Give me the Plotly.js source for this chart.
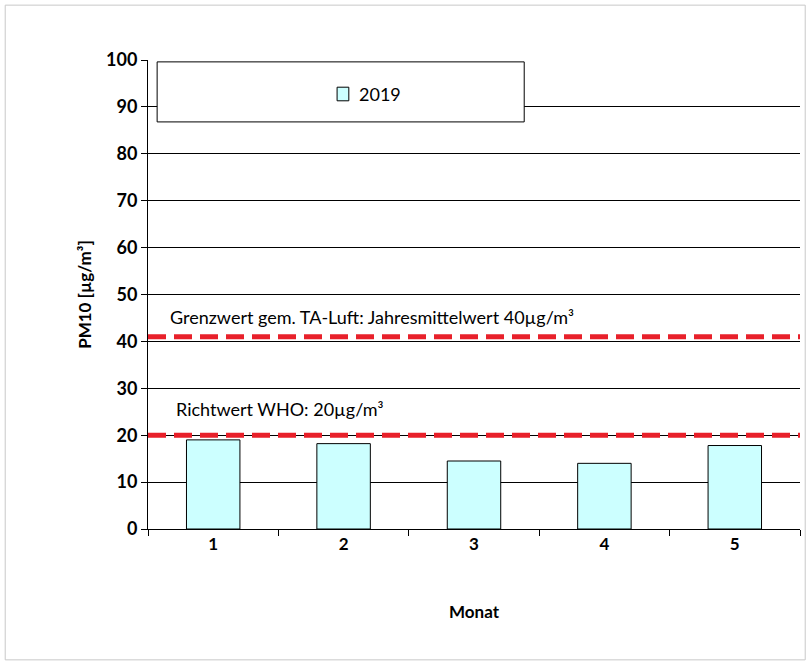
<!DOCTYPE html>
<html><head><meta charset="utf-8">
<script src="https://cdn.plot.ly/plotly-3.0.1.min.js"></script>
<style>body{margin:0}#c{width:810px;height:668px}</style></head>
<body><div id="c"></div>
<script>
const months = ["1","2","3","4","5"];
const pm10 = [19, 18.2, 14.5, 14, 17.8];
const grenzwert = 41;
const who = 20;
const grenzText = "Grenzwert gem. TA-Luft: Jahresmittelwert 40µg/m³";
const whoText = "Richtwert WHO: 20µg/m³";
const F = "Lato, 'Open Sans', sans-serif";
const data = [{
  type: "bar", x: months, y: pm10, name: "2019",
  marker: {color: "#ccffff", line: {color: "#000", width: 1}}, width: 0.41
}];
const layout = {
  width: 810, height: 668,
  margin: {l: 148, r: 10, t: 60, b: 139},
  paper_bgcolor: "#fff", plot_bgcolor: "#fff",
  showlegend: false,
  font: {family: F, color: "#000"},
  xaxis: {type: "category", showgrid: false, ticks: "outside", ticklen: 6, tickcolor: "#000",
    tickson: "boundaries",
    showline: true, linecolor: "#000", tickfont: {size: 17, family: F, weight: "bold"},
    title: {text: "<b>Monat</b>", font: {size: 17, family: F}, standoff: 52}},
  yaxis: {range: [0, 100], dtick: 10, showgrid: true, gridcolor: "#000", gridwidth: 1,
    showline: true, linecolor: "#000", ticks: "outside", ticklen: 6, tickcolor: "#000",
    tickfont: {size: 18, family: F, weight: "bold"}, zeroline: false,
    title: {text: "<b>PM10 [µg/m³]</b>", font: {size: 17, family: F}, standoff: 10}},
  shapes: [
    {type: "line", xref: "paper", x0: 0, x1: 1, yref: "y", y0: grenzwert, y1: grenzwert,
      line: {color: "#e8202a", width: 5, dash: "18px,8px"}},
    {type: "line", xref: "paper", x0: 0, x1: 1, yref: "y", y0: who, y1: who,
      line: {color: "#e8202a", width: 5, dash: "18px,8px"}},
    {type: "rect", xref: "paper", yref: "y", x0: 0.014, x1: 0.577, y0: 86.8, y1: 99.6,
      fillcolor: "#fff", line: {color: "#000", width: 1}},
    {type: "rect", xref: "paper", yref: "y", x0: 0.29, x1: 0.308, y0: 91.3, y1: 94.2,
      fillcolor: "#ccffff", line: {color: "#000", width: 1}},
    {type: "rect", xref: "paper", yref: "paper", x0: -0.219, x1: 1.008, y0: -0.279, y1: 1.117,
      line: {color: "#c8c8c8", width: 1}}
  ],
  annotations: [
    {xref: "paper", yref: "y", x: 0.32, y: 92.8, text: "2019", showarrow: false, xanchor: "left",
      font: {size: 18, family: F}},
    {xref: "paper", yref: "y", x: 0.03, y: grenzwert + 4.3, text: grenzText, showarrow: false,
      xanchor: "left", font: {size: 18, family: F}},
    {xref: "paper", yref: "y", x: 0.04, y: who + 5.5, text: whoText, showarrow: false,
      xanchor: "left", font: {size: 18, family: F}}
  ]
};
Plotly.newPlot("c", data, layout, {displayModeBar: false});
</script></body></html>
